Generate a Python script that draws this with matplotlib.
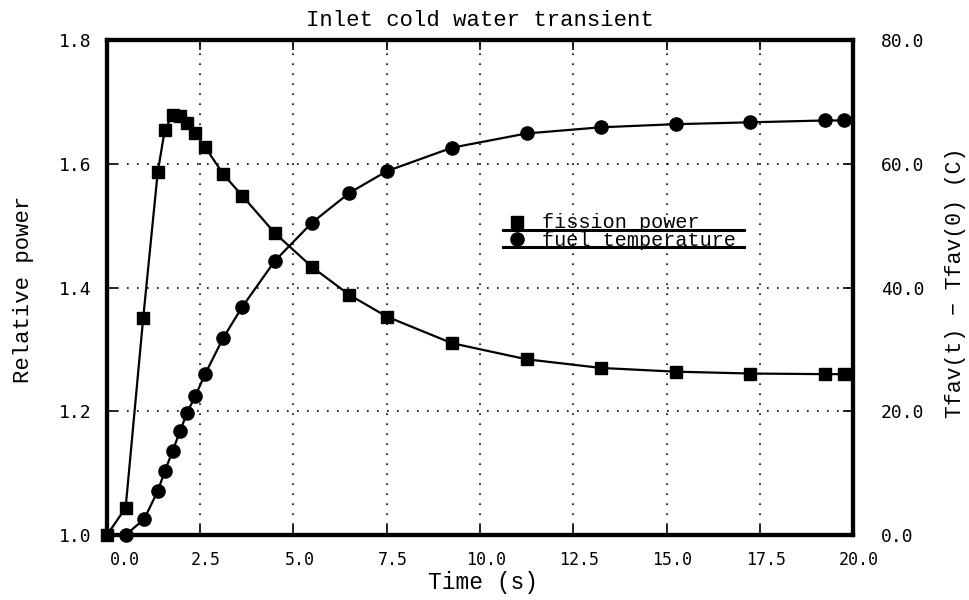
"""Inlet cold water transient: fission power and fuel temperature"""

import matplotlib

matplotlib.use("Agg")
from matplotlib import pyplot as plt
from matplotlib import transforms

plt.rcParams["font.family"] = ["Liberation Mono", "DejaVu Sans Mono"]
NUM_FONT = ["DejaVu Sans Mono"]

# fission power (left axis)
time_power = [0.0, 0.5, 0.97, 1.36, 1.55, 1.76, 1.96, 2.15, 2.37, 2.63, 3.12,
              3.63, 4.5, 5.5, 6.5, 7.5, 9.25, 11.25, 13.25, 15.25, 17.25,
              19.25, 19.75]
fission_power = [1.000, 1.044, 1.350, 1.586, 1.655, 1.679, 1.678, 1.666, 1.649,
                 1.627, 1.583, 1.548, 1.488, 1.433, 1.388, 1.353, 1.310, 1.284,
                 1.270, 1.264, 1.261, 1.260, 1.260]

# fuel temperature rise (right axis)
time_temp = [0.5, 1.0, 1.36, 1.55, 1.76, 1.96, 2.15, 2.37, 2.63, 3.12, 3.63,
             4.5, 5.5, 6.5, 7.5, 9.25, 11.25, 13.25, 15.25, 17.25, 19.25, 19.75]
fuel_temp = [0.0, 2.6, 7.1, 10.3, 13.6, 16.8, 19.8, 22.5, 26.0, 31.9, 36.9,
             44.3, 50.5, 55.3, 58.8, 62.6, 64.9, 65.9, 66.4, 66.7, 67.0, 67.0]

x_ticks = [0.0, 2.5, 5.0, 7.5, 10.0, 12.5, 15.0, 17.5, 20.0]
power_ticks = [1.0, 1.2, 1.4, 1.6, 1.8]
temp_ticks = [0, 20, 40, 60, 80]

fig = plt.figure(figsize=(9.69, 6.0), dpi=100)
ax = fig.add_axes([0.1104, 0.1083, 0.7699, 0.825])
ax2 = ax.twinx()

ax.plot(time_power, fission_power, color="k", lw=1.6, marker="s", ms=9,
        clip_on=False, zorder=3)
ax2.plot(time_temp, fuel_temp, color="k", lw=1.6, marker="o", ms=9.5,
         clip_on=False, zorder=3)

ax.set_xlim(0, 20)
ax.set_ylim(1.0, 1.8)
ax2.set_ylim(0, 80)
ax.set_xticks(x_ticks)
ax.set_xticklabels([])
ax.set_yticks(power_ticks)
ax.set_yticklabels(["%.1f" % v for v in power_ticks], fontsize=13,
                   family=NUM_FONT)
ax2.set_yticks(temp_ticks)
ax2.set_yticklabels(["%.1f" % v for v in temp_ticks], fontsize=13,
                    family=NUM_FONT)

ax.tick_params(axis="both", direction="in", length=7, width=1.2, top=True)
ax.tick_params(axis="y", pad=11)
ax2.tick_params(axis="y", direction="in", length=7, width=1.2, pad=20)
ax.grid(True, color="k", linestyle=(0, (1, 5)), lw=1.2)

for a in (ax, ax2):
    for s in a.spines.values():
        s.set_linewidth(3)

# x tick labels drawn by hand: the first one sits shifted right
blend = transforms.blended_transform_factory(ax.transData, ax.transAxes)
for i, t in enumerate(x_ticks):
    dx = 18 if i == 0 else 6
    off = transforms.ScaledTranslation(dx / 100, 0, fig.dpi_scale_trans)
    ax.text(t, -0.033, "%.1f" % t, transform=blend + off, ha="center", va="top",
            fontsize=12, family=NUM_FONT)

ax.set_title("Inlet cold water transient", fontsize=16, pad=10)
fig.text(0.498, 0.03, "Time (s)", ha="center", va="center", fontsize=16.5)
fig.text(0.024, 0.517, "Relative power", rotation=90, ha="center",
         va="center", fontsize=16)
fig.text(0.986, 0.528, "Tfav(t) \u2212 Tfav(0) (C)", rotation=90,
         ha="center", va="center", fontsize=15.5)

# legend in xmgr style: marker, label, underline
ta = ax.transAxes
ax.plot([0.549], [0.633], "ks", ms=9, transform=ta)
ax.plot([0.549], [0.599], "ko", ms=9.5, transform=ta)
ax.plot([0.531, 0.854], [0.616, 0.616], "k-", lw=2.2, transform=ta)
ax.plot([0.531, 0.854], [0.581, 0.581], "k-", lw=2.2, transform=ta)
ax.text(0.583, 0.620, "fission power", transform=ta, fontsize=14.5,
        va="baseline")
ax.text(0.583, 0.584, "fuel temperature", transform=ta, fontsize=14.5,
        va="baseline")

fig.savefig("out.png", dpi=100)
